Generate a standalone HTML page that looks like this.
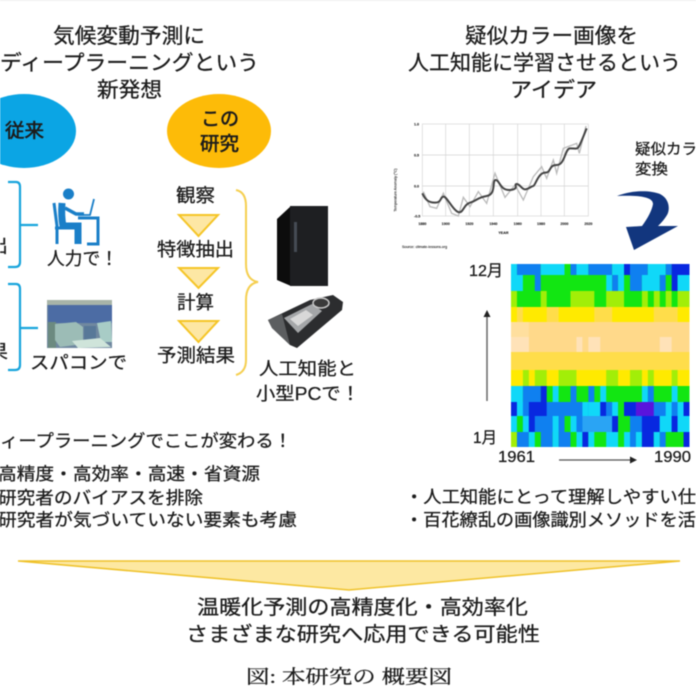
<!DOCTYPE html>
<html lang="ja"><head><meta charset="utf-8"><title>本研究の概要図</title>
<style>
html,body{margin:0;padding:0;background:#fff;width:696px;height:696px;overflow:hidden}
svg{display:block;filter:blur(.65px)}
text{font-family:"Liberation Sans","Noto Sans CJK JP",sans-serif;fill:#1c1c1c;stroke:#1c1c1c;stroke-width:.28px}
.c{fill:#10d8f8}.b{fill:#0f80f0}.g{fill:#12e612}.l{fill:#a2ee08}.y{fill:#ffea00}.d{fill:#0828e0}.p{fill:#5a14dc}.o{fill:#ffd98a}.u{fill:#ffdd4a}.w{fill:#ffe2b8}
</style></head><body>
<svg width="696" height="696" viewBox="0 0 696 696" xmlns="http://www.w3.org/2000/svg">
<rect width="696" height="696" fill="#fff"/>
<rect width="696" height="1" fill="#eee"/>

<!-- titles -->
<g font-size="21">
<text x="53" y="43" textLength="152" lengthAdjust="spacingAndGlyphs">気候変動予測に</text>
<text x="0" y="70" textLength="259" lengthAdjust="spacingAndGlyphs">ディープラーニングという</text>
<text x="97" y="97" textLength="65" lengthAdjust="spacingAndGlyphs">新発想</text>
<text x="465" y="43" textLength="173" lengthAdjust="spacingAndGlyphs">疑似カラー画像を</text>
<text x="408" y="70" textLength="273" lengthAdjust="spacingAndGlyphs">人工知能に学習させるという</text>
<text x="510" y="97" textLength="87" lengthAdjust="spacingAndGlyphs">アイデア</text>
</g>

<!-- ellipses -->
<ellipse cx="24" cy="131" rx="52" ry="37" fill="#0ba5e4"/>
<ellipse cx="219" cy="131" rx="52" ry="37" fill="#fdbb08"/>
<text x="5" y="137" font-size="19" textLength="39" lengthAdjust="spacingAndGlyphs" style="stroke-width:.6px">従来</text>
<text x="201" y="125" font-size="19" textLength="38" lengthAdjust="spacingAndGlyphs" style="stroke-width:.6px">この</text>
<text x="200" y="150" font-size="19" textLength="39" lengthAdjust="spacingAndGlyphs" style="stroke-width:.6px">研究</text>

<!-- blue brackets -->
<g fill="none" stroke="#18a4dc" stroke-width="2.2">
<path d="M8 182H16Q20 182 20 187V262Q20 267 15 267H8M20 225H38"/>
<path d="M8 284H16Q20 284 20 289V365Q20 370 15 370H8M20 328H38"/>
</g>
<text x="-12" y="252" font-size="19" textLength="20" lengthAdjust="spacingAndGlyphs">出</text>
<text x="-12" y="358" font-size="19" textLength="20" lengthAdjust="spacingAndGlyphs">果</text>

<!-- person icon -->
<g fill="none" stroke="#1a7fc8">
<circle cx="68.500" cy="194" r="5.500" fill="#1a7fc8" stroke="none"/>
<path d="M62 203Q61 216 63 226H78V244" stroke-width="7"/>
<path d="M65 208L76 214H84" stroke-width="3.500"/>
<path d="M54 203L57 226V244M55 228H72" stroke-width="3"/>
<path d="M78 218H98V244H87" stroke-width="3"/>
<path d="M94 199L90 215H78" stroke-width="1.800"/>
</g>
<text x="47" y="265" font-size="18" textLength="71" lengthAdjust="spacingAndGlyphs">人力で！</text>

<!-- supercomputer photo -->
<rect x="47" y="300" width="65" height="48" fill="#7088a0"/>
<rect x="47" y="300" width="65" height="5" fill="#a8b4a8"/>
<rect x="48" y="305" width="64" height="18" fill="#4c6ca4"/>
<rect x="48" y="322" width="8" height="26" fill="#6c8a80"/>
<polygon points="55,324 76,322 83,327 83,344 60,347 55,340" fill="#9cbcb6"/>
<polygon points="97,323 111,321 112,342 101,342" fill="#a8ccc6"/>
<rect x="84" y="326" width="12" height="14" fill="#587898"/>
<polygon points="72,341 100,338 111,347 78,348" fill="#cfe4da"/>
<text x="30" y="369" font-size="18" textLength="97" lengthAdjust="spacingAndGlyphs">スパコンで</text>

<!-- process column -->
<g font-size="18.500">
<text x="176" y="202" textLength="39" lengthAdjust="spacingAndGlyphs">観察</text>
<text x="157" y="256" textLength="77" lengthAdjust="spacingAndGlyphs">特徴抽出</text>
<text x="177" y="309" textLength="37" lengthAdjust="spacingAndGlyphs">計算</text>
<text x="157" y="362" textLength="78" lengthAdjust="spacingAndGlyphs">予測結果</text>
</g>
<g fill="#fde7a4" stroke="#f5c526" stroke-width="2">
<polygon points="179,215 218,215 198.500,236"/>
<polygon points="179,268 218,268 198.500,288"/>
<polygon points="179,321 218,321 198.500,342"/>
</g>
<path d="M236 190Q246 192 246 206V264Q246 280 258 282Q246 284 246 300V360Q246 372 236 375" fill="none" stroke="#f5cf50" stroke-width="2"/>

<!-- tower PC -->
<polygon points="277,219 291,206 291,286 277,280" fill="#0c0c0c"/>
<polygon points="290,206 328,206 328,286 290,286" fill="#1e1f22"/>
<rect x="294" y="222" width="3" height="30" fill="#454b54"/>

<!-- GPU -->
<polygon points="268,320 310,300 333,295 343,302 342,310 297,348 290,345 272,328" fill="#2c2d2f"/>
<polygon points="284,318 312,304 322,311 298,333" fill="#a4a6a8"/>
<polygon points="290,319 306,310 313,315 298,326" fill="#d8d8d8"/>
<polygon points="268,320 282,314 290,345 272,328" fill="#5c5e60"/>
<ellipse cx="321" cy="303" rx="8" ry="5" fill="#3a3a3a" stroke="#c8c8c8" stroke-width="1.500"/>
<text x="259" y="375" font-size="18" textLength="97" lengthAdjust="spacingAndGlyphs">人工知能と</text>
<text x="256" y="400" font-size="18" textLength="104" lengthAdjust="spacingAndGlyphs">小型PCで！</text>

<!-- left bullets -->
<g font-size="17.500">
<text x="0" y="447" textLength="292" lengthAdjust="spacingAndGlyphs">ィープラーニングでここが変わる！</text>
<text x="-2" y="480" textLength="262" lengthAdjust="spacingAndGlyphs">高精度・高効率・高速・省資源</text>
<text x="-2" y="504" textLength="205" lengthAdjust="spacingAndGlyphs">研究者のバイアスを排除</text>
<text x="-2" y="526" textLength="299" lengthAdjust="spacingAndGlyphs">研究者が気づいていない要素も考慮</text>
</g>

<!-- temperature chart -->
<g transform="translate(380,110) scale(.33333)">
<g stroke="#d4d4d4" stroke-width="2" fill="none">
<rect x="127" y="42" width="498" height="276"/>
<path d="M197 42V318M268 42V318M340 42V318M413 42V318M483 42V318M553 42V318M127 135H625M127 228H625"/>
</g>
<path d="M130 245L150 290 170 295 190 250 215 310 235 318 250 262 270 290 295 245 320 280 345 190 375 262 405 225 430 270 460 200 485 170 500 205 520 150 530 190 550 115 590 100 598 130 618 48" fill="none" stroke="#bbb" stroke-width="4"/>
<path d="M127 250C135 268 145 278 165 278S180 262 190 260S215 295 232 305S250 283 270 278S290 263 320 258S335 210 347 210S360 242 390 240S400 222 410 222S425 238 435 238S455 228 460 228S475 188 495 188S505 165 530 165S555 115 570 115S590 118 595 112S610 80 620 55" fill="none" stroke="#444" stroke-width="6"/>
<g font-size="11" font-weight="700" style="stroke:none">
<text x="102" y="46">1.0</text><text x="102" y="140">0.5</text><text x="102" y="232">0.0</text><text x="102" y="322">-0.5</text>
<text x="115" y="345">1880</text><text x="185" y="345">1900</text><text x="256" y="345">1920</text><text x="328" y="345">1940</text><text x="401" y="345">1960</text><text x="471" y="345">1980</text><text x="541" y="345">2000</text><text x="613" y="345">2020</text>
<text x="355" y="372">YEAR</text>
<text x="66" y="414" font-weight="400">Source: climate-lessons.org</text>
<text transform="translate(50,305) rotate(-90)" font-weight="400">Temperature Anomaly (°C)</text>
</g>
</g>

<text x="635" y="154" font-size="15" textLength="62" lengthAdjust="spacingAndGlyphs">疑似カラ</text>
<text x="635" y="174" font-size="15" textLength="33" lengthAdjust="spacingAndGlyphs">変換</text>

<!-- blue curved arrow -->
<path d="M617 196C632 190 650 190 660 194C670 199 670 210 667 215C664 220 661 223 658 226L678 226L634 250L626 227L642 226C648 218 652 210 653 204C653 197 640 195 617 196Z" fill="#12367e"/>

<!-- heatmap -->
<g transform="translate(511,0) scale(5.95,1)">
<rect x="0" y="264" width="30" height="183" class="g"/>
<!-- row 1 -->
<g>
<rect x="0" y="264" width="1" height="11" class="c"/><rect x="1" y="264" width="4" height="11" class="b"/><rect x="5" y="264" width="4" height="11" class="c"/><rect x="9" y="264" width="1" height="11" class="g"/><rect x="10" y="264" width="1" height="11" class="b"/><rect x="11" y="264" width="2" height="11" class="c"/><rect x="13" y="264" width="4" height="11" class="b"/><rect x="17" y="264" width="2" height="11" class="c"/><rect x="19" y="264" width="1" height="11" class="d"/><rect x="20" y="264" width="3" height="11" class="b"/><rect x="23" y="264" width="3" height="11" class="c"/><rect x="26" y="264" width="1" height="11" class="b"/><rect x="27" y="264" width="3" height="11" class="d"/>
</g>
<!-- row 2 -->
<g>
<rect x="0" y="275" width="2" height="16" class="c"/><rect x="4" y="275" width="1" height="16" class="b"/><rect x="16" y="275" width="1" height="16" class="c"/><rect x="17" y="275" width="1" height="16" class="b"/><rect x="18" y="275" width="1" height="16" class="c"/><rect x="20" y="275" width="2" height="16" class="b"/><rect x="22" y="275" width="3" height="16" class="c"/><rect x="25" y="275" width="1" height="16" class="b"/><rect x="27" y="275" width="1" height="16" class="d"/><rect x="28" y="275" width="2" height="16" class="c"/>
</g>
<!-- row 3 -->
<g>
<rect x="0" y="291" width="1" height="16" class="l"/><rect x="5" y="291" width="1" height="16" class="l"/><rect x="10" y="291" width="4" height="16" class="l"/><rect x="16" y="291" width="3" height="16" class="l"/><rect x="22" y="291" width="1" height="16" class="l"/><rect x="24" y="291" width="1" height="16" class="l"/><rect x="26" y="291" width="1" height="16" class="l"/><rect x="28" y="291" width="2" height="16" class="l"/>
</g>
<!-- warm rows -->
<rect x="0" y="307" width="30" height="15" class="y"/>
<rect x="1" y="307" width="1" height="15" class="u"/><rect x="6" y="307" width="2" height="15" class="u"/><rect x="14" y="307" width="3" height="15" class="u"/><rect x="24" y="307" width="4" height="15" class="u"/>
<rect x="0" y="322" width="30" height="30" class="o"/>
<rect x="0" y="322" width="3" height="30" fill="#ffdf9e"/>
<rect x="0" y="337" width="3" height="15" class="w"/><rect x="11" y="337" width="1" height="15" class="w"/><rect x="13" y="337" width="2" height="15" class="w"/><rect x="25" y="337" width="2" height="15" class="w"/>
<rect x="0" y="352" width="30" height="18" class="u"/>
<rect x="0" y="370" width="30" height="16" class="y"/>
<rect x="2" y="370" width="1" height="16" class="l"/><rect x="4" y="370" width="2" height="16" class="l"/><rect x="8" y="370" width="3" height="16" class="l"/><rect x="16" y="370" width="2" height="16" class="l"/><rect x="20" y="370" width="2" height="16" class="l"/><rect x="23" y="370" width="1" height="16" class="l"/><rect x="27" y="370" width="1" height="16" class="l"/>
<!-- row 9 -->
<g>
<rect x="0" y="386" width="2" height="16" class="c"/><rect x="2" y="386" width="3" height="16" class="b"/><rect x="5" y="386" width="1" height="16" class="d"/><rect x="7" y="386" width="1" height="16" class="c"/><rect x="10" y="386" width="1" height="16" class="b"/><rect x="13" y="386" width="1" height="16" class="b"/><rect x="15" y="386" width="1" height="16" class="c"/><rect x="22" y="386" width="1" height="16" class="c"/><rect x="23" y="386" width="1" height="16" class="b"/><rect x="27" y="386" width="1" height="16" class="c"/>
</g>
<!-- row 10 -->
<rect x="0" y="402" width="30" height="14" class="b"/>
<rect x="0" y="402" width="1" height="14" class="d"/><rect x="1" y="402" width="1" height="14" class="c"/><rect x="3" y="402" width="3" height="14" class="d"/><rect x="12" y="402" width="1" height="14" class="c"/><rect x="13" y="402" width="3" height="14" class="c"/><rect x="15" y="402" width="1" height="14" class="d"/><rect x="17" y="402" width="1" height="14" class="c"/><rect x="18" y="402" width="1" height="14" class="g"/><rect x="19" y="402" width="2" height="14" class="d"/><rect x="21" y="402" width="3" height="14" class="p"/><rect x="26" y="402" width="1" height="14" class="c"/><rect x="28" y="402" width="1" height="14" class="c"/><rect x="29" y="402" width="1" height="14" class="d"/>
<!-- row 11 -->
<rect x="0" y="416" width="30" height="16" class="b"/>
<rect x="0" y="416" width="1" height="16" class="c"/><rect x="1" y="416" width="1" height="16" class="g"/><rect x="2" y="416" width="1" height="16" class="c"/><rect x="3" y="416" width="1" height="16" class="d"/><rect x="7" y="416" width="1" height="16" class="c"/><rect x="9" y="416" width="1" height="16" class="g"/><rect x="10" y="416" width="1" height="16" class="c"/><rect x="12" y="416" width="5" height="16" class="c" style="fill:#2aa4f4"/><rect x="17" y="416" width="1" height="16" class="d"/><rect x="18" y="416" width="2" height="16" class="g"/><rect x="22" y="416" width="3" height="16" class="d"/><rect x="25" y="416" width="2" height="16" class="c"/><rect x="27" y="416" width="1" height="16" class="d"/><rect x="28" y="416" width="2" height="16" class="c"/>
<!-- row 12 -->
<g>
<rect x="0" y="432" width="1" height="15" class="l"/><rect x="1" y="432" width="2" height="15" class="b"/><rect x="3" y="432" width="1" height="15" class="c"/><rect x="5" y="432" width="2" height="15" class="b"/><rect x="7" y="432" width="1" height="15" class="c"/><rect x="8" y="432" width="2" height="15" class="b"/><rect x="11" y="432" width="1" height="15" class="c"/><rect x="12" y="432" width="1" height="15" class="d"/><rect x="13" y="432" width="1" height="15" class="c"/><rect x="16" y="432" width="2" height="15" class="c"/><rect x="19" y="432" width="1" height="15" class="c"/><rect x="20" y="432" width="1" height="15" class="b"/><rect x="21" y="432" width="1" height="15" class="c"/><rect x="22" y="432" width="2" height="15" class="d"/><rect x="24" y="432" width="1" height="15" class="c"/><rect x="25" y="432" width="1" height="15" class="b"/><rect x="29" y="432" width="1" height="15" class="d"/>
</g>
</g>
<text x="469" y="276" font-size="16" textLength="34" lengthAdjust="spacingAndGlyphs">12月</text>
<text x="473" y="443" font-size="16" textLength="24" lengthAdjust="spacingAndGlyphs">1月</text>
<text x="498" y="462" font-size="16" textLength="37" lengthAdjust="spacingAndGlyphs">1961</text>
<text x="654" y="462" font-size="16" textLength="37" lengthAdjust="spacingAndGlyphs">1990</text>
<path d="M487 401V316" stroke="#666" stroke-width="1.500"/>
<polygon points="487,310 483.500,317 490.500,317" fill="#222"/>
<path d="M559 460H630" stroke="#555" stroke-width="1.300"/>
<polygon points="637,460 630,456.500 630,463.500" fill="#222"/>

<!-- right bullets -->
<g font-size="17.500">
<text x="405" y="503" textLength="291" lengthAdjust="spacingAndGlyphs">・人工知能にとって理解しやすい仕</text>
<text x="405" y="526" textLength="291" lengthAdjust="spacingAndGlyphs">・百花繚乱の画像識別メソッドを活</text>
</g>

<!-- big triangle -->
<polygon points="18,561 680,561 349,590" fill="#fde8a2" stroke="#efc22a" stroke-width="1.500"/>

<g font-size="20">
<text x="197" y="614" textLength="331" lengthAdjust="spacingAndGlyphs">温暖化予測の高精度化・高効率化</text>
<text x="186" y="641" textLength="354" lengthAdjust="spacingAndGlyphs">さまざまな研究へ応用できる可能性</text>
</g>
<text x="246" y="683" font-size="19" textLength="206" lengthAdjust="spacingAndGlyphs" style="font-family:'Liberation Serif','Noto Serif CJK SC',serif">図: 本研究の 概要図</text>
</svg>
</body></html>
